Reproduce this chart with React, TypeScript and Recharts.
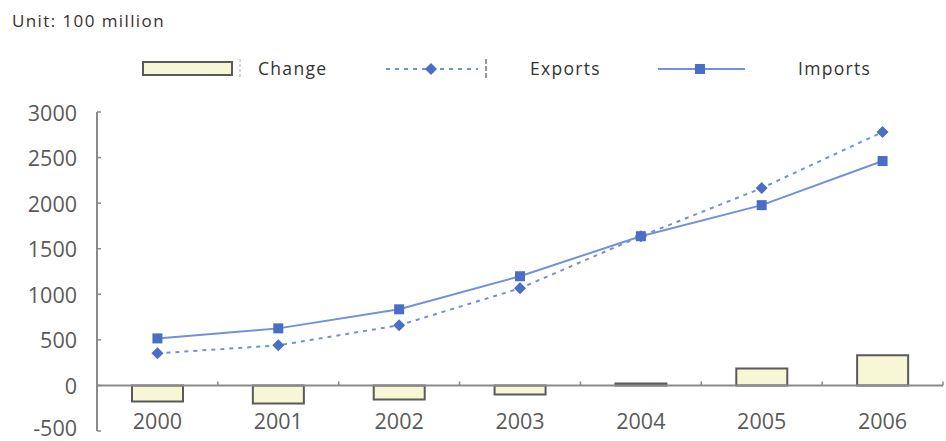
import { Bar, ComposedChart, Line, ReferenceLine, XAxis, YAxis } from "recharts";

const years = ["2000", "2001", "2002", "2003", "2004", "2005", "2006"];
const exportsValues = [352, 440, 660, 1066, 1637, 2165, 2780];
const importsValues = [516, 626, 835, 1198, 1637, 1978, 2462];
const changeValues = [-176, -198, -154, -99, 20, 187, 330];
const yTicks = [-500, 0, 500, 1000, 1500, 2000, 2500, 3000];

const data = years.map((year, i) => ({
  year,
  exports: exportsValues[i],
  imports: importsValues[i],
  change: changeValues[i],
}));

const FONT = "'Open Sans', 'Liberation Sans', sans-serif";
const TEXT = "#5a5a5a";
const AXIS = "#8a8a8a";
const LINE = "#7391d8";
const MARK = "#4a6dc6";
const BAR_FILL = "#f7f7d6";
const BAR_EDGE = "#5a5a5a";

const YAX_MARGIN = 20;

function YTick(props: any) {
  const { x, y, payload } = props;
  // lowest label sits on the bottom edge; lift it a little so it stays whole
  const lift = payload.value === yTicks[0] ? 4 : 0;
  return (
    <g>
      <line x1={x + YAX_MARGIN} x2={x + YAX_MARGIN + 4} y1={y} y2={y} stroke={AXIS} strokeWidth={1.5} />
      <text x={x} y={y - lift} textAnchor="end" dominantBaseline="central" fill={TEXT} fontSize={21.5} fontFamily={FONT}>
        {payload.value}
      </text>
    </g>
  );
}

function XTick(props: any) {
  const { x, y, payload } = props;
  return (
    <text x={x} y={y - 11} textAnchor="middle" dominantBaseline="central" fill={TEXT} fontSize={21.5} fontFamily={FONT}>
      {payload.value}
    </text>
  );
}

// zero line with the category boundary marks on it
function ZeroAxis(props: any) {
  const { x1, x2, y1 } = props;
  const band = (x2 - x1) / years.length;
  return (
    <g>
      <line x1={x1} x2={x2} y1={y1} y2={y1} stroke={AXIS} strokeWidth={2} />
      {years.map((yr, i) => (
        <line key={yr} x1={x1 + band * (i + 1)} x2={x1 + band * (i + 1)} y1={y1} y2={y1 - 4} stroke={AXIS} strokeWidth={1.5} />
      ))}
    </g>
  );
}

const squareDot = (p: any) => (
  <rect key={`s${p.index}`} x={p.cx - 5} y={p.cy - 5} width={10} height={10} fill={MARK} />
);

const diamondDot = (p: any) => (
  <path
    key={`d${p.index}`}
    d={`M${p.cx},${p.cy - 6} L${p.cx + 6},${p.cy} L${p.cx},${p.cy + 6} L${p.cx - 6},${p.cy} Z`}
    fill={MARK}
  />
);

function LegendRow() {
  const labelStyle: React.CSSProperties = {
    position: "absolute",
    top: 57,
    fontSize: 17.5,
    letterSpacing: 1.3,
    color: "#333",
    fontFamily: FONT,
    lineHeight: "22px",
  };
  return (
    <>
      <svg width={946} height={90} style={{ position: "absolute", left: 0, top: 0 }}>
        <rect x={143} y={62} width={89} height={13} fill={BAR_FILL} stroke={BAR_EDGE} strokeWidth={2} />
        <line x1={240} x2={240} y1={59} y2={79} stroke="#aaa" strokeWidth={1} strokeDasharray="3 2" />
        <line x1={386} x2={478} y1={69} y2={69} stroke={LINE} strokeWidth={2} strokeDasharray="4 5" />
        <path d="M431,63 L437,69 L431,75 L425,69 Z" fill={MARK} />
        <line x1={486} x2={486} y1={59} y2={79} stroke="#777" strokeWidth={1.5} strokeDasharray="5 2" />
        <line x1={658} x2={745} y1={69} y2={69} stroke={LINE} strokeWidth={2} />
        <rect x={695} y={64} width={10} height={10} fill={MARK} />
      </svg>
      <div style={{ ...labelStyle, left: 258 }}>Change</div>
      <div style={{ ...labelStyle, left: 530 }}>Exports</div>
      <div style={{ ...labelStyle, left: 798 }}>Imports</div>
    </>
  );
}

export default function App() {
  return (
    <div style={{ position: "absolute", left: 0, top: 0, width: 946, height: 441, background: "#fff", fontFamily: FONT }}>
      <div
        style={{
          position: "absolute",
          left: 12,
          top: 9,
          fontSize: 17,
          letterSpacing: 1.4,
          color: "#3a3030",
          lineHeight: "24px",
        }}
      >
        Unit: 100 million
      </div>
      <LegendRow />
      <div style={{ position: "absolute", left: 0, top: 0 }}>
        <ComposedChart width={946} height={441} data={data} margin={{ top: 112, right: 3, bottom: 0, left: 0 }} barSize={51}>
          <XAxis
            dataKey="year"
            height={10}
            axisLine={false}
            tickLine={false}
            tickSize={0}
            tickMargin={0}
            tick={<XTick />}
            interval={0}
          />
          <YAxis
            width={97}
            domain={[-500, 3000]}
            ticks={yTicks}
            interval={0}
            axisLine={{ stroke: AXIS, strokeWidth: 2 }}
            tickLine={false}
            tickSize={0}
            tickMargin={YAX_MARGIN}
            tick={<YTick />}
          />
          <Bar dataKey="change" fill={BAR_FILL} stroke={BAR_EDGE} strokeWidth={2} isAnimationActive={false} />
          <ReferenceLine y={0} shape={<ZeroAxis />} />
          <Line
            dataKey="exports"
            stroke={LINE}
            strokeWidth={2}
            strokeDasharray="4 5"
            dot={diamondDot}
            activeDot={false}
            isAnimationActive={false}
          />
          <Line
            dataKey="imports"
            stroke={LINE}
            strokeWidth={2}
            dot={squareDot}
            activeDot={false}
            isAnimationActive={false}
          />
        </ComposedChart>
      </div>
    </div>
  );
}
